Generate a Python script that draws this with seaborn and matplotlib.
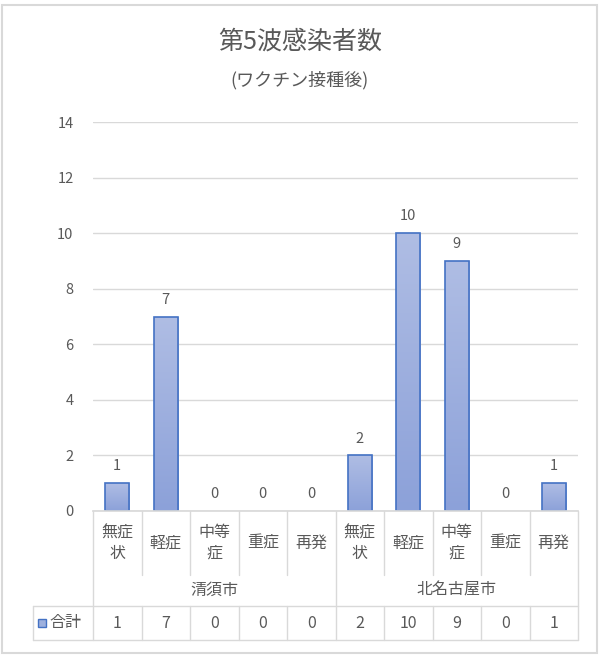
import numpy as np
import pandas as pd
import matplotlib
matplotlib.use('Agg')
import matplotlib.pyplot as plt
import matplotlib.patches as mpatches
import seaborn as sns

# data
cities = ['清須市', '北名古屋市']
symptoms = ['無症状', '軽症', '中等症', '重症', '再発']
counts = [1, 7, 0, 0, 0, 2, 10, 9, 0, 1]
series_name = '合計'
title = '第5波感染者数'
subtitle = '(ワクチン接種後)'
yticks = [0, 2, 4, 6, 8, 10, 12, 14]

df = pd.DataFrame({
    'city': [c for c in cities for _ in symptoms],
    'symptom': symptoms * len(cities),
    'count': counts,
})
df['slot'] = df['city'] + '-' + df['symptom']

sns.set_theme(style='white')
plt.rcParams['font.family'] = ['Noto Sans CJK JP', 'DejaVu Sans']

GRAY_TXT = '#595959'
GRID = '#D9D9D9'
EDGE = '#4472C4'
LBL = 11.5

W, H = 600, 660
fig = plt.figure(figsize=(W / 100, H / 100), dpi=100)

# plot area in pixels
L, R, T, B = 93, 578, 122, 511
ax = fig.add_axes([L / W, 1 - B / H, (R - L) / W, (B - T) / H])

sns.barplot(data=df, x='slot', y='count', order=list(df['slot']),
            color='#9DB0DE', width=0.5, edgecolor=EDGE, linewidth=1.2,
            saturation=1, ax=ax)

# gradient fill for bars (Excel style)
grad = np.linspace(0, 1, 100).reshape(-1, 1)
top_c = np.array([175, 189, 228]) / 255
bot_c = np.array([140, 161, 217]) / 255
img = top_c[None, None, :] * (1 - grad[:, :, None]) + bot_c[None, None, :] * grad[:, :, None]
for p in ax.patches:
    x0, y0 = p.get_x(), p.get_y()
    w, h = p.get_width(), p.get_height()
    if h <= 0:
        p.set_linewidth(0)
        continue
    im = ax.imshow(img, extent=[x0, x0 + w, y0, y0 + h], aspect='auto',
                   zorder=p.get_zorder() - 0.1, interpolation='bilinear')
    im.set_clip_path(p)
    p.set_facecolor('none')

ax.set_xlim(-0.5, len(counts) - 0.5)
ax.set_ylim(0, 14)
ax.set_yticks(yticks)
ax.yaxis.grid(True, color=GRID, linewidth=1)
ax.set_axisbelow(True)
ax.tick_params(axis='y', length=0, pad=14, labelsize=10.5, labelcolor=GRAY_TXT)
ax.set_xticks([])
ax.set_xlabel('')
ax.set_ylabel('')
for s in ['top', 'right', 'left']:
    ax.spines[s].set_visible(False)
ax.spines['bottom'].set_color(GRID)

# data labels
for i, v in enumerate(counts):
    ax.annotate(str(v), (i, v), xytext=(0, 7), textcoords='offset points',
                ha='center', va='bottom', fontsize=10.5, color=GRAY_TXT)

# category table below the plot
ph = B - T
def ay(py):
    return (B - py) / ph

slot_px = (R - L) / len(counts)
def dx(px):
    return -0.5 + (px - L) / slot_px

tr = ax.get_xaxis_transform()
n = len(counts)
y_axis, y_inner, y_grp, y_tab = ay(511), ay(575), ay(606), ay(640)

def line(xs, ys):
    ax.plot(xs, ys, color=GRID, lw=1, transform=tr, clip_on=False)

for k in range(n + 1):
    xb = k - 0.5
    if k % len(symptoms) == 0:
        line([xb, xb], [y_axis, y_tab])
    else:
        line([xb, xb], [y_axis, y_inner])
        line([xb, xb], [y_grp, y_tab])
x_leg = dx(33)
line([x_leg, n - 0.5], [y_grp, y_grp])
line([x_leg, n - 0.5], [y_tab, y_tab])
line([x_leg, x_leg], [y_grp, y_tab])

def wrap2(s):
    return '\n'.join(s[i:i + 2] for i in range(0, len(s), 2))

for i, s in enumerate(df['symptom']):
    ax.text(i, ay(543), wrap2(s), transform=tr, ha='center', va='center',
            fontsize=LBL, color=GRAY_TXT, linespacing=1.25)
for j, c in enumerate(cities):
    xc = j * len(symptoms) + (len(symptoms) - 1) / 2
    ax.text(xc, ay(590), c, transform=tr, ha='center', va='center',
            fontsize=LBL, color=GRAY_TXT)
for i, v in enumerate(counts):
    ax.text(i, ay(623), str(v), transform=tr, ha='center', va='center',
            fontsize=LBL, color=GRAY_TXT)

# legend key in table
fig.patches.append(mpatches.Rectangle((38 / W, 1 - 627 / H), 8 / W, 8 / H,
                   transform=fig.transFigure, facecolor='#9DB0DE',
                   edgecolor=EDGE, lw=1))
ax.text(dx(49), ay(623), series_name, transform=tr, ha='left', va='center',
        fontsize=LBL, color=GRAY_TXT)

# titles
fig.text(300 / W, 1 - 42 / H, title, ha='center', va='center',
         fontsize=18, color=GRAY_TXT)
fig.text(300 / W, 1 - 80 / H, subtitle, ha='center', va='center',
         fontsize=13, color=GRAY_TXT)

# chart border
fig.patches.append(mpatches.Rectangle((2 / W, 1 - 653 / H), 595 / W, 648 / H,
                   transform=fig.transFigure, fill=False,
                   edgecolor=GRID, lw=1.5))

fig.savefig('out.png', dpi=100, facecolor='white')
